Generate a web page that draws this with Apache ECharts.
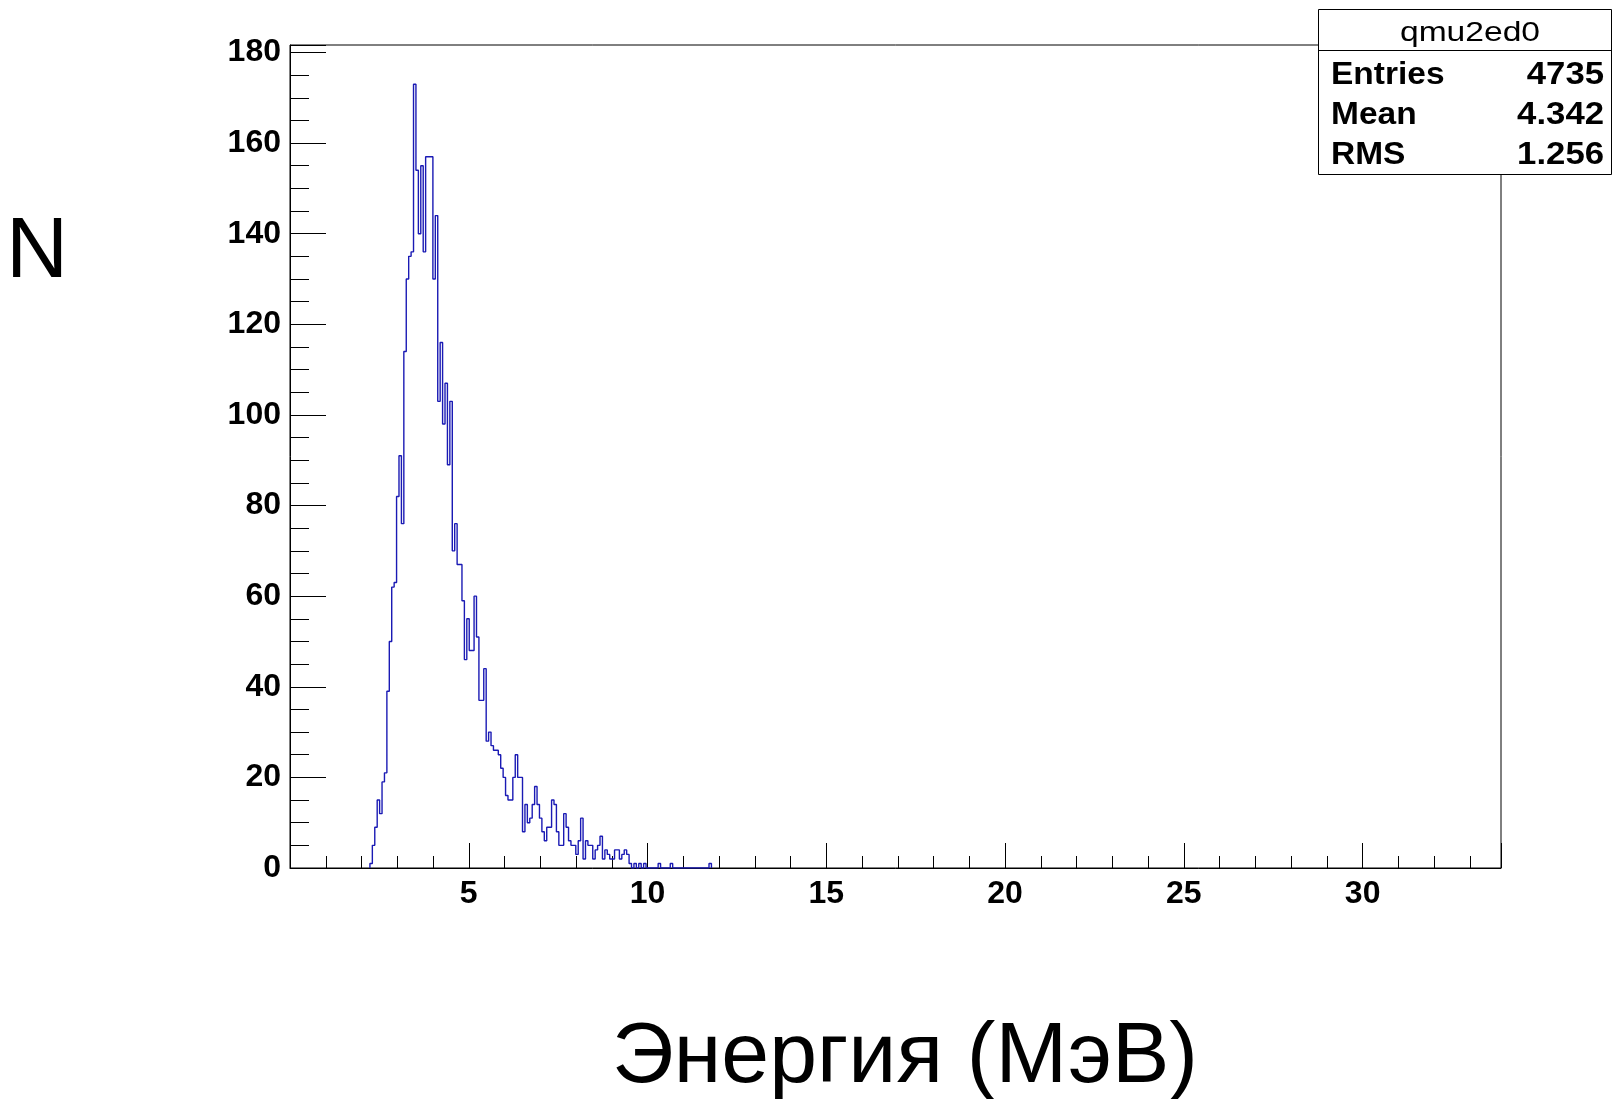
<!DOCTYPE html>
<html><head><meta charset="utf-8">
<script src="https://cdn.jsdelivr.net/npm/echarts@6/dist/echarts.min.js"></script>
<style>html,body{margin:0;padding:0;background:#fff}#c{width:1612px;height:1099px}</style>
</head><body><div id="c"></div>
<script>
// ---- data ----
const X_MIN = 0;
const X_MAX = 33.87;
const N_BINS = 500;
const FIRST_BIN = 33;          // index of the first bin listed in counts
const counts = [
  1, 5, 9, 15, 12, 19, 21, 39, 50, 62, 63, 82, 91, 76,
  114, 130, 135, 136, 173, 154, 140, 155, 136, 157, 157, 157, 130, 144,
  103, 116, 98, 107, 89, 103, 70, 76, 67, 67, 59, 46, 55, 48, 48, 60, 51, 37, 37, 44,
  28, 30, 27, 26, 26, 25, 22, 20, 16, 15, 15, 20, 25, 20, 20, 8, 14, 10, 11, 14,
  18, 14, 11, 8, 6, 9, 9, 15, 14, 8, 5, 5, 12, 9, 6, 5, 5, 3, 6, 11,
  2, 6, 5, 5, 2, 4, 5, 7, 2, 4, 3, 2, 2, 4, 4, 2, 3, 4, 3, 1,
  0, 1, 0, 1, 0, 1, 0, 0, 0, 0, 0, 1, 0, 0, 0, 0, 1,
  0, 0, 0, 0, 0, 0, 0, 0, 0, 0, 0, 0, 0, 0, 0, 1
];
const Y_MAX = 181.65;
const xLabelTicks = [5, 10, 15, 20, 25, 30];
const yLabelTicks = [0, 20, 40, 60, 80, 100, 120, 140, 160, 180];
const statsTitle = 'qmu2ed0';
const statsNames = ['Entries', 'Mean', 'RMS'];
const statsValues = ['4735', '4.342', '1.256'];
const xTitle = 'Энергия (МэВ)';
const yTitle = 'N';

// ---- build ----
const binW = (X_MAX - X_MIN) / N_BINS;
const pts = [[X_MIN + FIRST_BIN * binW, 0]];
counts.forEach((c, k) => pts.push([X_MIN + (FIRST_BIN + k) * binW, c]));
const endX = X_MIN + (FIRST_BIN + counts.length) * binW;
pts.push([endX, counts[counts.length - 1]]);
pts.push([endX, 0]);

const FONT = 'Liberation Sans, Arial, Helvetica, sans-serif';
const near = (v, arr) => arr.some(t => Math.abs(v - t) < 1e-6);
const lblStyle = {color: '#000', fontFamily: FONT, fontWeight: 'bold', fontSize: 32};

const chart = echarts.init(document.getElementById('c'), null, {renderer: 'canvas'});
const statsRowY = [75, 115.5, 155.5];
const graphics = [
  {type: 'rect', z: 100, shape: {x: 1318.5, y: 9.5, width: 293, height: 165},
   style: {fill: '#fff', stroke: '#000', lineWidth: 1}},
  {type: 'line', z: 101, shape: {x1: 1318.5, y1: 50.5, x2: 1612, y2: 50.5},
   style: {stroke: '#000', lineWidth: 1}},
  {type: 'text', z: 102, x: 1470, y: 33, scaleX: 1.2,
   style: {text: statsTitle, font: 'normal 28px ' + FONT, fill: '#000', textAlign: 'center', textVerticalAlign: 'middle'}},
  {type: 'text', z: 10, x: 6, y: 253,
   style: {text: yTitle, font: 'normal 86px ' + FONT, fill: '#000', textAlign: 'left', textVerticalAlign: 'middle'}},
  {type: 'text', z: 10, x: 905, y: 1058,
   style: {text: xTitle, font: 'normal 86px ' + FONT, fill: '#000', textAlign: 'center', textVerticalAlign: 'middle'}}
];
statsNames.forEach((n, k) => {
  graphics.push({type: 'text', z: 102, x: 1331, y: statsRowY[k], scaleX: 1.08,
    style: {text: n, font: 'bold 31px ' + FONT, fill: '#000', textAlign: 'left', textVerticalAlign: 'middle'}});
  graphics.push({type: 'text', z: 102, x: 1604, y: statsRowY[k], scaleX: 1.12,
    style: {text: statsValues[k], font: 'bold 31px ' + FONT, fill: '#000', textAlign: 'right', textVerticalAlign: 'middle'}});
});

chart.setOption({
  animation: false,
  backgroundColor: '#fff',
  grid: {left: 290, top: 45, right: 111, bottom: 231, show: true, borderColor: '#000', borderWidth: 1, containLabel: false},
  xAxis: [
    {type: 'value', min: X_MIN, max: X_MAX, interval: 5, position: 'bottom',
     axisLine: {show: true, onZero: false, lineStyle: {color: '#000', width: 1}},
     axisTick: {show: true, inside: true, length: 25, lineStyle: {color: '#000'}},
     splitLine: {show: false},
     axisLabel: Object.assign({margin: 10, formatter: v => near(v, xLabelTicks) ? String(Math.round(v)) : ''}, lblStyle)},
    {type: 'value', min: X_MIN, max: X_MAX, interval: 1, position: 'bottom',
     axisLine: {show: false}, splitLine: {show: false}, axisLabel: {show: false},
     axisTick: {show: true, inside: true, length: 12, lineStyle: {color: '#000'}}}
  ],
  yAxis: [
    {type: 'value', min: 0, max: Y_MAX, interval: 20, position: 'left',
     axisLine: {show: true, onZero: false, lineStyle: {color: '#000', width: 1}},
     axisTick: {show: true, inside: true, length: 36, lineStyle: {color: '#000'}},
     splitLine: {show: false},
     axisLabel: Object.assign({margin: 9, formatter: v => near(v, yLabelTicks) ? String(Math.round(v)) : ''}, lblStyle)},
    {type: 'value', min: 0, max: Y_MAX, interval: 5, position: 'left',
     axisLine: {show: false}, splitLine: {show: false}, axisLabel: {show: false},
     axisTick: {show: true, inside: true, length: 19, lineStyle: {color: '#000'}}}
  ],
  series: [{
    type: 'line', xAxisIndex: 0, yAxisIndex: 0, step: 'end', data: pts,
    showSymbol: false, symbol: 'none', lineStyle: {color: '#1a1ab4', width: 1.4}, z: 5
  }],
  graphic: graphics
});
</script></body></html>
